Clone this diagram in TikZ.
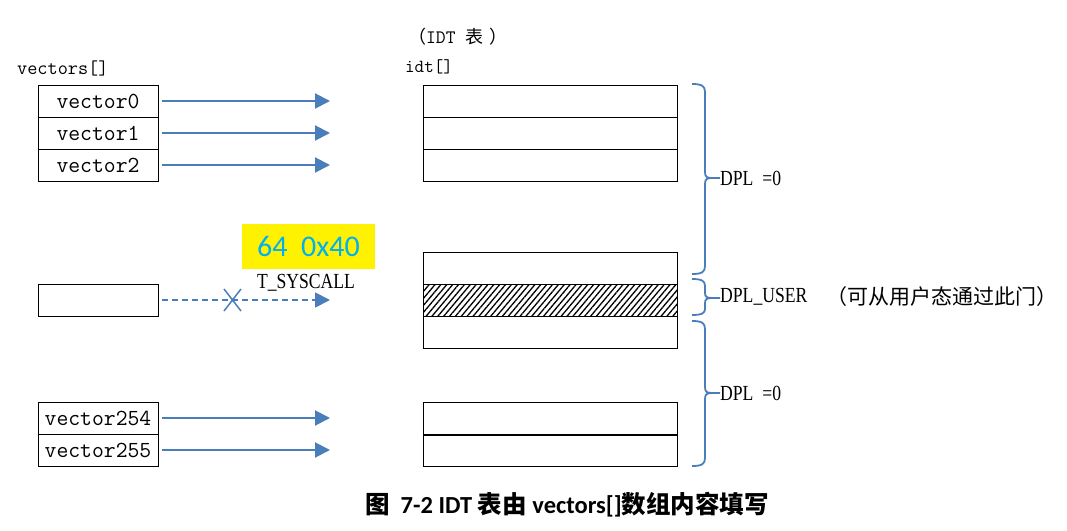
\documentclass[tikz,border=0pt]{standalone}
\usepackage{fontspec}
\newfontfamily\cjk{Noto Sans CJK SC}
\newfontfamily\carl{Carlito}
\newfontfamily\cserif[FakeStretch=0.82]{Liberation Serif}
\usetikzlibrary{arrows.meta,patterns.meta}
\definecolor{myblue}{HTML}{4A7EBB}
\definecolor{hlcyan}{HTML}{00B0F0}
\begin{document}
\begin{tikzpicture}[x=1pt,y=-1pt,
  cell/.style={draw=black,line width=1pt,minimum width=120pt,minimum height=32pt,inner sep=0pt,font=\fontsize{23}{27}\selectfont\ttfamily},
  idtrow/.style={draw=black,line width=1pt,minimum width=254pt,minimum height=32pt,inner sep=0pt},
  arr/.style={draw=myblue,line width=2pt,-{Triangle[length=15pt,width=15pt]},shorten <=3pt},
  bracep/.style={draw=myblue,line width=1.8pt},
  lab/.style={font=\fontsize{21.5}{25}\selectfont\cserif,inner sep=0pt,anchor=west}]
\useasboundingbox[fill=white] (0,0) rectangle (1067,530);
% headers
\node[anchor=west,inner sep=0pt,font=\fontsize{19.7}{22}\selectfont\ttfamily] (hv) at (17,68) {vectors[]};
\node[anchor=west,inner sep=0pt,font=\fontsize{18.5}{22}\selectfont\ttfamily] (hi) at (405,67) {idt[]};
\node[anchor=west,inner sep=0pt] (ht) at (408,37) {{\cjk\fontsize{18}{22}\selectfont （}{\ttfamily\fontsize{19}{22}\selectfont IDT\ }{\cjk\fontsize{18}{22}\selectfont 表}\hspace{6pt}{\cjk\fontsize{18}{22}\selectfont ）}};
% left cells
\node[cell] (v0) at (98,101) {vector0};
\node[cell] (v1) at (98,133) {vector1};
\node[cell] (v2) at (98,165) {vector2};
\node[cell] (vs) at (98,300) {};
\node[cell] (v254) at (98,418) {vector254};
\node[cell] (v255) at (98,450) {vector255};
% idt rows
\node[idtrow] (r0) at (550,101) {};
\node[idtrow] (r1) at (550,133) {};
\node[idtrow] (r2) at (550,165) {};
\node[idtrow] (r3) at (550,268) {};
\node[idtrow,pattern={Lines[angle=50,distance=4.5pt,line width=1.3pt]},pattern color=black] (r4) at (550,300) {};
\node[idtrow] (r5) at (550,332) {};
\node[idtrow] (r6) at (550,418) {};
\node[idtrow] (r7) at (550,450) {};
\draw[line width=2pt] (r6.south west) -- (r6.south east);
% arrow ends
\coordinate (e0) at (330,101);
\coordinate (e1) at (330,133);
\coordinate (e2) at (330,165);
\coordinate (es) at (330,300);
\coordinate (e254) at (330,418);
\coordinate (e255) at (330,450);
\draw[arr] (v0.east) -- (e0);
\draw[arr] (v1.east) -- (e1);
\draw[arr] (v2.east) -- (e2);
\draw[arr] (v254.east) -- (e254);
\draw[arr] (v255.east) -- (e255);
\draw[arr,line width=1.8pt,dash pattern=on 6pt off 4pt] (vs.east) -- (es);
\draw[myblue,line width=1.5pt] (224,289) -- (241,311) (224,311) -- (241,289);
% yellow label
\node[fill=yellow,minimum width=133pt,minimum height=45pt,inner sep=0pt,text=hlcyan,font=\fontsize{30}{34}\selectfont\carl] (hl) at (308.5,246.5) {64\ \ 0x40};
\node[font=\fontsize{21.5}{25}\selectfont\cserif,inner sep=0pt] (ts) at (306,283) {T\_SYSCALL};
% braces
\draw[bracep] (692,84) .. controls (702,84) and (705,86) .. (705,92) -- (705,172) .. controls (705,177) and (707,178) .. (712,178) -- (720,178) -- (712,178) .. controls (707,178) and (705,179) .. (705,184) -- (705,266) .. controls (705,272) and (702,274) .. (692,274);
\draw[bracep] (692,279) .. controls (702,279) and (705,281) .. (705,286) -- (705,293) .. controls (705,297) and (707,298) .. (712,298) -- (720,298) -- (712,298) .. controls (707,298) and (705,299) .. (705,303) -- (705,309) .. controls (705,313) and (702,315) .. (692,315);
\draw[bracep] (692,321) .. controls (702,321) and (705,323) .. (705,329) -- (705,387) .. controls (705,392) and (707,393) .. (712,393) -- (720,393) -- (712,393) .. controls (707,393) and (705,394) .. (705,399) -- (705,458) .. controls (705,464) and (702,466) .. (692,466);
\node[lab] (d0) at (720,178) {DPL\ \ =0};
\node[lab] (du) at (720,297) {DPL\_USER};
\node[anchor=west,inner sep=0pt,font=\fontsize{21}{24}\selectfont\cjk] (dc) at (826,297) {（可从用户态通过此门）};
\node[lab] (d1) at (720,393) {DPL\ \ =0};
% caption
\node[inner sep=0pt,font=\fontsize{24.5}{28}\selectfont\bfseries] (cap) at (567,505) {{\cjk 图}{\carl\ \ 7-2 IDT }{\cjk 表由}{\carl\ vectors[]}{\cjk 数组内容填写}};
\end{tikzpicture}
\end{document}
